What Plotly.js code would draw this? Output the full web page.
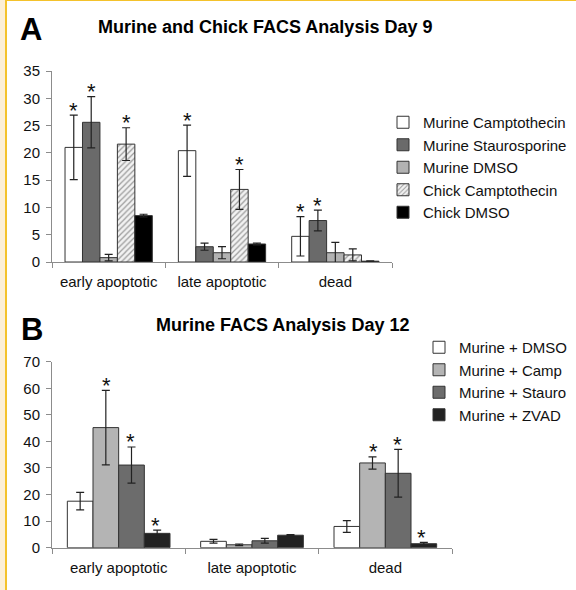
<!DOCTYPE html>
<html>
<head>
<meta charset="utf-8">
<script src="https://cdn.plot.ly/plotly-3.0.1.min.js"></script>
<style>
  html, body { margin: 0; padding: 0; background: #fff; overflow: hidden; }
  #wrap { position: relative; width: 576px; height: 590px; }
  #chart { position: absolute; left: 0; top: 0; width: 576px; height: 590px; }
  .deco { position: absolute; pointer-events: none; }
</style>
</head>
<body>
<div id="wrap">
  <div id="chart"></div>
  <div class="deco" style="left:0;top:0;width:5px;height:590px;background:#fcefd6;"></div>
  <div class="deco" style="left:5px;top:0;width:2px;height:590px;background:#f4c22b;"></div>
  <div class="deco" style="left:5px;top:0;width:571px;height:1px;background:#f4c22b;"></div>
</div>
<script>
// ---------- Data: panel A (Day 9) ----------
const categoriesA = ['early apoptotic', 'late apoptotic', 'dead'];
const seriesNamesA = ['Murine Camptothecin', 'Murine Staurosporine', 'Murine DMSO', 'Chick Camptothecin', 'Chick DMSO'];
const murineCamptoA = [21.0, 20.4, 4.7];
const murineCamptoErrA = [5.9, 4.7, 3.6];
const murineCamptoStarA = [true, true, true];
const murineStauroA = [25.6, 2.8, 7.6];
const murineStauroErrA = [4.7, 0.65, 1.9];
const murineStauroStarA = [true, false, true];
const murineDmsoA = [0.8, 1.7, 1.7];
const murineDmsoErrA = [0.6, 1.1, 1.9];
const murineDmsoStarA = [false, false, false];
const chickCamptoA = [21.6, 13.3, 1.3];
const chickCamptoErrA = [3.0, 3.65, 1.1];
const chickCamptoStarA = [true, true, false];
const chickDmsoA = [8.5, 3.3, 0.15];
const chickDmsoErrA = [0.25, 0.15, 0.05];
const chickDmsoStarA = [false, false, false];
const yTicksA = [0, 5, 10, 15, 20, 25, 30, 35];

// ---------- Data: panel B (Day 12) ----------
const categoriesB = ['early apoptotic', 'late apoptotic', 'dead'];
const seriesNamesB = ['Murine + DMSO', 'Murine + Camp', 'Murine + Stauro', 'Murine + ZVAD'];
const dmsoB = [17.5, 2.4, 8.0];
const dmsoErrB = [3.3, 0.7, 2.2];
const dmsoStarB = [false, false, false];
const campB = [45.2, 1.1, 31.9];
const campErrB = [14.0, 0.3, 2.3];
const campStarB = [true, false, true];
const stauroB = [31.1, 2.6, 28.0];
const stauroErrB = [6.8, 0.9, 9.0];
const stauroStarB = [true, false, true];
const zvadB = [5.4, 4.7, 1.5];
const zvadErrB = [1.2, 0.2, 0.5];
const zvadStarB = [true, false, true];
const yTicksB = [0, 10, 20, 30, 40, 50, 60, 70];

// ---------- Styles ----------
const FONT = 'Liberation Sans, Arial, sans-serif';
const W = 576, H = 590;
const outline = '#333333';
const bargapA = 0.23, bargapB = 0.27;

const seriesA = [
  {name: seriesNamesA[0], y: murineCamptoA, err: murineCamptoErrA, star: murineCamptoStarA, color: '#ffffff'},
  {name: seriesNamesA[1], y: murineStauroA, err: murineStauroErrA, star: murineStauroStarA, color: '#6a6a6a'},
  {name: seriesNamesA[2], y: murineDmsoA, err: murineDmsoErrA, star: murineDmsoStarA, color: '#b2b2b2'},
  {name: seriesNamesA[3], y: chickCamptoA, err: chickCamptoErrA, star: chickCamptoStarA, color: '#f2f2f2', pattern: true},
  {name: seriesNamesA[4], y: chickDmsoA, err: chickDmsoErrA, star: chickDmsoStarA, color: '#000000'}
];
const seriesB = [
  {name: seriesNamesB[0], y: dmsoB, err: dmsoErrB, star: dmsoStarB, color: '#ffffff'},
  {name: seriesNamesB[1], y: campB, err: campErrB, star: campStarB, color: '#b4b4b4'},
  {name: seriesNamesB[2], y: stauroB, err: stauroErrB, star: stauroStarB, color: '#6c6c6c'},
  {name: seriesNamesB[3], y: zvadB, err: zvadErrB, star: zvadStarB, color: '#222222'}
];

const traces = [];
function addTraces(series, cats, xa, ya, legend) {
  series.forEach(s => {
    const marker = {color: s.color, line: {color: outline, width: 1}};
    if (s.pattern) {
      marker.pattern = {shape: '/', fgcolor: '#9a9a9a', bgcolor: '#f2f2f2', size: 4, solidity: 0.3};
    }
    traces.push({
      type: 'bar', name: s.name, x: cats, y: s.y, xaxis: xa, yaxis: ya, legend: legend,
      marker: marker,
      error_y: {type: 'data', array: s.err, visible: true, color: '#222', thickness: 1.2, width: 4},
      hoverinfo: 'skip'
    });
  });
}
addTraces(seriesA, categoriesA, 'x', 'y', 'legend');
addTraces(seriesB, categoriesB, 'x2', 'y2', 'legend2');

// significance stars placed through the axis scales
const annotations = [];
function addStars(series, bargap, xref, yref) {
  const n = series.length;
  const bw = (1 - bargap) / n;
  series.forEach((s, i) => {
    s.y.forEach((v, j) => {
      if (s.star[j]) {
        annotations.push({
          xref: xref, yref: yref, x: j - (1 - bargap) / 2 + bw * (i + 0.5), y: v + s.err[j],
          text: '*', showarrow: false, yanchor: 'middle', yshift: 5,
          font: {family: FONT, size: 22, color: '#111'}
        });
      }
    });
  });
}
addStars(seriesA, bargapA, 'x', 'y');
addStars(seriesB, bargapB, 'x2', 'y2');

function py(p) { return 1 - p / H; }
function px(p) { return p / W; }
annotations.push(
  {xref: 'paper', yref: 'paper', x: px(31), y: py(29), text: '<b>A</b>', showarrow: false,
   font: {family: FONT, size: 31, color: '#000'}, xanchor: 'center', yanchor: 'middle'},
  {xref: 'paper', yref: 'paper', x: px(265), y: py(27), text: '<b>Murine and Chick FACS Analysis Day 9</b>', showarrow: false,
   font: {family: FONT, size: 18, color: '#000'}, xanchor: 'center', yanchor: 'middle'},
  {xref: 'paper', yref: 'paper', x: px(32), y: py(329), text: '<b>B</b>', showarrow: false,
   font: {family: FONT, size: 31, color: '#000'}, xanchor: 'center', yanchor: 'middle'},
  {xref: 'paper', yref: 'paper', x: px(282), y: py(325), text: '<b>Murine FACS Analysis Day 12</b>', showarrow: false,
   font: {family: FONT, size: 18, color: '#000'}, xanchor: 'center', yanchor: 'middle'}
);

const axisCommonX = {
  type: 'category', showline: true, linecolor: '#8c8c8c', linewidth: 1,
  ticks: 'outside', tickson: 'boundaries', ticklen: 5, tickcolor: '#8c8c8c',
  showgrid: false, zeroline: false, range: [-0.5, 2.5],
  tickfont: {family: FONT, size: 15, color: '#111'}, ticklabelstandoff: 6
};
const axisCommonY = {
  showline: true, linecolor: '#8c8c8c', linewidth: 1,
  ticks: 'outside', ticklen: 5, tickcolor: '#8c8c8c',
  showgrid: false, zeroline: false, tickmode: 'array',
  tickfont: {family: FONT, size: 15, color: '#111'}, ticklabelstandoff: 3
};

const layout = {
  width: W, height: H,
  margin: {l: 0, r: 0, t: 0, b: 0},
  paper_bgcolor: '#ffffff', plot_bgcolor: 'rgba(0,0,0,0)',
  barmode: 'group', bargap: bargapA, bargroupgap: 0,
  showlegend: true,
  font: {family: FONT, color: '#111'},
  xaxis: Object.assign({}, axisCommonX, {domain: [px(52), px(392)], anchor: 'y'}),
  yaxis: Object.assign({}, axisCommonY, {domain: [py(262), py(71)], range: [0, 35], tickvals: yTicksA, anchor: 'x'}),
  xaxis2: Object.assign({}, axisCommonX, {domain: [px(52), px(452)], anchor: 'y2'}),
  yaxis2: Object.assign({}, axisCommonY, {domain: [py(547.7), py(361.7)], range: [0, 70], tickvals: yTicksB, anchor: 'x2'}),
  legend: {x: px(383), y: py(106), xanchor: 'left', yanchor: 'top', bgcolor: 'rgba(0,0,0,0)',
           font: {family: FONT, size: 15, color: '#111'}, tracegroupgap: 0, itemclick: false},
  legend2: {x: px(419), y: py(331), xanchor: 'left', yanchor: 'top', bgcolor: 'rgba(0,0,0,0)',
            font: {family: FONT, size: 15, color: '#111'}, tracegroupgap: 0, itemclick: false},
  annotations: annotations
};

Plotly.newPlot('chart', traces, layout, {displayModeBar: false, staticPlot: true});
</script>
</body>
</html>
